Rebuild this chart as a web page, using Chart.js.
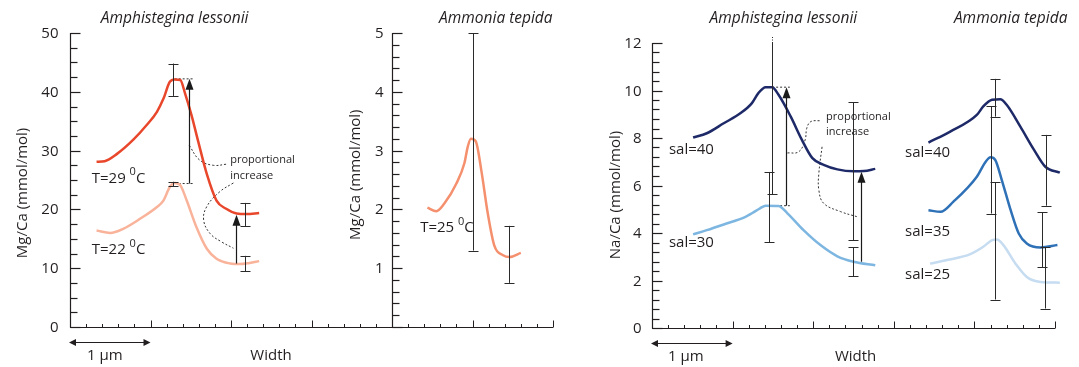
<!DOCTYPE html>
<html>
<head>
<meta charset="utf-8">
<script src="https://cdn.jsdelivr.net/npm/chart.js@4.4.1/dist/chart.umd.min.js"></script>
<style>
    body { margin: 0; background: #fff; }
    #wrap { position: relative; width: 1079px; height: 367px; }
    canvas { position: absolute; top: 0; }
    #left { left: 0; }
    #right { left: 580px; }
</style>
</head>
<body>
<div id="wrap">
    <canvas id="left" width="580" height="367"></canvas>
    <canvas id="right" width="499" height="367"></canvas>
</div>
<script>
// ---- Mg/Ca, Amphistegina lessonii (width in µm)
const alWidth29 = [0.33, 0.43, 0.58, 0.79, 0.95, 1.08, 1.16, 1.24, 1.30, 1.37, 1.43, 1.51, 1.59, 1.70, 1.82, 1.94, 2.07, 2.19, 2.35];
const mgT29     = [28.1, 28.2, 29.4, 31.9, 34.3, 36.6, 38.8, 41.7, 42.1, 42.0, 39.7, 36.0, 31.7, 26.0, 21.5, 20.1, 19.3, 19.2, 19.4];
const alWidth22 = [0.33, 0.50, 0.66, 0.87, 1.08, 1.16, 1.24, 1.30, 1.37, 1.45, 1.57, 1.70, 1.82, 1.99, 2.11, 2.23, 2.35];
const mgT22     = [16.4, 16.0, 16.7, 18.4, 20.4, 21.5, 23.8, 24.5, 24.1, 21.5, 17.0, 13.3, 11.6, 10.8, 10.7, 10.9, 11.2];

const mgErrX    = [1.28, 2.17, 1.28, 2.17];
const mgErrLow  = [39.3, 17.1, 23.9, 9.5];
const mgErrHigh = [44.8, 21.1, 24.7, 12.1];

const mgArrowX    = [1.48, 2.06];
const mgArrowFrom = [24.4, 10.8];
const mgArrowTo   = [42.2, 19.1];

// ---- Mg/Ca, Ammonia tepida
const atWidthT25 = [4.44, 4.55, 4.65, 4.80, 4.90, 4.94, 4.98, 5.04, 5.11, 5.19, 5.27, 5.38, 5.46, 5.60];
const mgT25      = [2.03, 1.97, 2.10, 2.44, 2.79, 3.06, 3.20, 3.16, 2.66, 1.93, 1.39, 1.22, 1.19, 1.26];
const mgT25ErrX    = [5.00, 5.45];
const mgT25ErrLow  = [1.30, 0.75];
const mgT25ErrHigh = [5.00, 1.72];

// ---- Na/Ca, Amphistegina lessonii
const alWidth40 = [0.51, 0.68, 0.89, 1.10, 1.24, 1.32, 1.41, 1.49, 1.57, 1.72, 1.86, 1.99, 2.13, 2.30, 2.50, 2.63, 2.77];
const naSal40   = [8.02, 8.20, 8.62, 9.05, 9.47, 9.89, 10.14, 10.14, 9.82, 8.91, 7.92, 7.15, 6.87, 6.68, 6.60, 6.61, 6.70];
const alWidth30 = [0.51, 0.68, 0.89, 1.16, 1.24, 1.34, 1.41, 1.57, 1.68, 1.88, 2.09, 2.30, 2.50, 2.77];
const naSal30   = [3.94, 4.12, 4.36, 4.68, 4.83, 5.04, 5.15, 5.14, 4.83, 4.12, 3.49, 3.02, 2.79, 2.64];

// ---- Na/Ca, Ammonia tepida
const atWidth40 = [3.43, 3.70, 4.03, 4.11, 4.22, 4.32, 4.40, 4.57, 4.74, 4.88, 5.06];
const naAtSal40 = [7.81, 8.27, 8.97, 9.33, 9.61, 9.63, 9.40, 8.48, 7.50, 6.79, 6.54];
const atWidth35 = [3.43, 3.58, 3.74, 4.03, 4.14, 4.20, 4.26, 4.34, 4.45, 4.55, 4.65, 4.82, 5.03];
const naAtSal35 = [4.96, 4.89, 5.32, 6.37, 7.00, 7.19, 7.07, 6.23, 4.96, 3.98, 3.56, 3.39, 3.49];
const atWidth25 = [3.45, 3.66, 3.95, 4.11, 4.22, 4.28, 4.36, 4.51, 4.65, 4.82, 5.06];
const naAtSal25 = [2.71, 2.86, 3.11, 3.42, 3.70, 3.73, 3.49, 2.71, 2.15, 1.94, 1.91];

const naErrX    = [1.49, 1.455, 2.49, 2.49, 4.25, 4.89, 4.20, 4.84, 4.25, 4.87];
const naErrLow  = [5.64, 3.62, 3.70, 2.18, 8.90, 5.15, 4.82, 2.57, 1.20, 0.82];
const naErrHigh = [12.3, 6.57, 9.50, 3.39, 10.49, 8.13, 9.33, 4.87, 6.13, 3.39];

const naArrowX    = [1.666, 2.593];
const naArrowFrom = [5.15, 2.79];
const naArrowTo   = [10.14, 6.58];

// dotted guides ("proportional increase")
const mgGuideAX = [1.48, 1.61, 1.78, 1.95];
const mgGuideAY = [30.9, 28.4, 27.5, 27.7];
const mgGuideBX = [2.03, 1.86, 1.70, 1.66, 1.74, 1.88, 2.03];
const mgGuideBY = [24.5, 23.0, 20.5, 18.2, 15.9, 14.5, 13.4];
const naGuideAX = [1.68, 1.82, 1.90, 1.92, 1.97, 2.09];
const naGuideAY = [7.37, 7.42, 7.92, 8.41, 8.69, 8.73];
const naGuideBX = [2.11, 2.07, 2.07, 2.13, 2.34, 2.54];
const naGuideBY = [7.63, 6.51, 5.81, 5.25, 4.90, 4.69];

const ink = '#231f20';

function curve(xs, ys, color, yId) {
    return {
        data: xs.map((x, i) => ({x: x, y: ys[i]})),
        borderColor: color,
        borderWidth: 2.5,
        pointRadius: 0,
        cubicInterpolationMode: 'monotone',
        yAxisID: yId || 'y',
        clip: false
    };
}

function dotted(xs, ys, yId) {
    return {
        data: xs.map((x, i) => ({x: x, y: ys[i]})),
        borderColor: '#333',
        borderWidth: 1,
        borderDash: [2, 2],
        pointRadius: 0,
        tension: 0.4,
        yAxisID: yId || 'y',
        clip: false
    };
}

function drawYAxis(ctx, chart, ax) {
    let xs = chart.scales.x;
    let ys = chart.scales[ax.id];
    let px = Math.round(xs.getPixelForValue(ax.at)) + 0.5;

    ctx.strokeStyle = ink;
    ctx.lineWidth = 1.2;
    ctx.beginPath();
    ctx.moveTo(px, ys.getPixelForValue(ys.min) + 0.5);
    ctx.lineTo(px, ys.getPixelForValue(ys.max));
    ctx.stroke();

    ctx.fillStyle = ink;
    ctx.font = '15px "Open Sans"';
    ctx.textAlign = 'right';
    ctx.textBaseline = 'middle';

    let n = Math.round((ys.max - ys.min) / ax.minor);
    for (let i = 0; i <= n; i++) {
        let v = ys.min + i * ax.minor;
        let py = Math.round(ys.getPixelForValue(v)) + 0.5;
        let major = Math.abs(v / ax.major - Math.round(v / ax.major)) < 1e-6;
        ctx.beginPath();
        ctx.moveTo(px, py);
        ctx.lineTo(px + (major ? 10 : 7), py);
        ctx.stroke();
        if (major && !(ax.skipZero && i === 0)) {
            ctx.fillText(String(Math.round(v)), px - ax.gap, py);
        }
    }

    ctx.save();
    ctx.translate(px - ax.titleOffset, ys.getPixelForValue(ax.titleAt));
    ctx.rotate(-Math.PI / 2);
    ctx.textAlign = 'center';
    ctx.fillText(ax.title, 0, 0);
    ctx.restore();
}

function arrowHead(ctx, x, y, dx, dy, len, half) {
    ctx.beginPath();
    ctx.moveTo(x, y);
    ctx.lineTo(x - dx * len - dy * half, y - dy * len + dx * half);
    ctx.lineTo(x - dx * len + dy * half, y - dy * len - dx * half);
    ctx.closePath();
    ctx.fill();
}

function drawXAxis(ctx, chart, xa) {
    let xs = chart.scales.x;
    let ys = chart.scales.y;
    let py = Math.round(ys.getPixelForValue(0)) + 0.5;

    ctx.strokeStyle = ink;
    ctx.lineWidth = 1.2;
    ctx.beginPath();
    ctx.moveTo(xs.getPixelForValue(xs.min), py);
    ctx.lineTo(xs.getPixelForValue(xs.max), py);
    ctx.stroke();

    ctx.lineWidth = 1;
    let n = Math.round((xs.max - xs.min) / 0.2);
    for (let i = 1; i <= n; i++) {
        let px = Math.round(xs.getPixelForValue(xs.min + i * 0.2)) + 0.5;
        ctx.beginPath();
        ctx.moveTo(px, py);
        ctx.lineTo(px, py - (i % 5 === 0 ? 7 : 3.5));
        ctx.stroke();
    }

    // 1 µm scale bar
    let by = py + 15;
    let x0 = xs.getPixelForValue(0) - 1;
    let x1 = xs.getPixelForValue(1);
    ctx.beginPath();
    ctx.moveTo(x0 + 4, by);
    ctx.lineTo(x1 - 4, by);
    ctx.stroke();
    ctx.fillStyle = ink;
    arrowHead(ctx, x1, by, 1, 0, 7, 3.5);
    arrowHead(ctx, x0, by, -1, 0, 7, 3.5);

    ctx.font = '15px "Open Sans"';
    ctx.textAlign = 'left';
    ctx.textBaseline = 'middle';
    ctx.fillText('1 µm', xs.getPixelForValue(xa.barLabelAt), py + 28);
    ctx.fillText('Width', xs.getPixelForValue(xa.widthAt), py + 28);
}

function drawErrorBars(ctx, chart, eb) {
    let xs = chart.scales.x;
    let ys = chart.scales[eb.yId];
    ctx.strokeStyle = '#2b2b2b';
    ctx.lineWidth = 1;
    for (let i = 0; i < eb.x.length; i++) {
        let px = Math.round(xs.getPixelForValue(eb.x[i])) + 0.5;
        let lo = ys.getPixelForValue(eb.low[i]);
        let topVal = Math.min(eb.high[i], ys.max);
        let hi = ys.getPixelForValue(topVal);
        ctx.setLineDash([]);
        ctx.beginPath();
        ctx.moveTo(px, lo);
        ctx.lineTo(px, hi);
        ctx.moveTo(px - 5, Math.round(lo) + 0.5);
        ctx.lineTo(px + 5, Math.round(lo) + 0.5);
        if (eb.high[i] <= ys.max) {
            ctx.moveTo(px - 5, Math.round(hi) + 0.5);
            ctx.lineTo(px + 5, Math.round(hi) + 0.5);
        }
        ctx.stroke();
        if (eb.high[i] > ys.max) {
            ctx.setLineDash([1, 1.5]);
            ctx.beginPath();
            ctx.moveTo(px, hi);
            ctx.lineTo(px, ys.getPixelForValue(eb.high[i]));
            ctx.stroke();
            ctx.setLineDash([]);
        }
    }
}

function drawArrows(ctx, chart, ar) {
    let xs = chart.scales.x;
    let ys = chart.scales[ar.yId];
    ctx.strokeStyle = '#1a1a1a';
    ctx.fillStyle = '#1a1a1a';
    ctx.lineWidth = 1.2;
    for (let i = 0; i < ar.x.length; i++) {
        let px = Math.round(xs.getPixelForValue(ar.x[i])) + 0.5;
        let from = ys.getPixelForValue(ar.from[i]);
        let to = ys.getPixelForValue(ar.to[i]);
        ctx.beginPath();
        ctx.moveTo(px, from);
        ctx.lineTo(px, to + 8);
        ctx.stroke();
        arrowHead(ctx, px, to, 0, -1, 11, 4);
    }
}

function drawLabel(ctx, chart, lb) {
    let xs = chart.scales.x;
    let ys = chart.scales[lb.yId || 'y'];
    let x = xs.getPixelForValue(lb.x);
    let y = ys.getPixelForValue(lb.y);
    let size = lb.size || 15;
    ctx.fillStyle = ink;
    ctx.textAlign = 'left';
    ctx.textBaseline = 'middle';
    ctx.font = size + 'px "Open Sans"';
    let parts = lb.text.split('^');
    ctx.fillText(parts[0], x, y);
    if (parts.length > 1) {
        x += ctx.measureText(parts[0]).width;
        ctx.font = '11px "Open Sans"';
        ctx.fillText(parts[1].charAt(0), x, y - 6);
        x += ctx.measureText(parts[1].charAt(0)).width;
        ctx.font = size + 'px "Open Sans"';
        ctx.fillText(parts[1].slice(1), x, y);
    }
}

const decorPlugin = {
    id: 'decor',
    afterDatasetsDraw(chart, args, opts) {
        let ctx = chart.ctx;
        ctx.save();
        opts.errorBars.forEach(eb => drawErrorBars(ctx, chart, eb));
        opts.arrows.forEach(ar => drawArrows(ctx, chart, ar));
        drawXAxis(ctx, chart, opts.xAxis);
        opts.yAxes.forEach(ax => drawYAxis(ctx, chart, ax));
        opts.labels.forEach(lb => drawLabel(ctx, chart, lb));

        ctx.font = 'italic 15.5px "Open Sans"';
        ctx.textAlign = 'center';
        ctx.textBaseline = 'middle';
        ctx.fillStyle = ink;
        opts.titles.forEach(t => ctx.fillText(t.text, chart.scales.x.getPixelForValue(t.x), 19));
        ctx.restore();
    }
};

Chart.register(decorPlugin);

// Left: Mg/Ca
new Chart(document.getElementById('left').getContext('2d'), {
    type: 'line',
    data: {
        datasets: [
            curve(alWidth29, mgT29, '#e9472b'),
            curve(alWidth22, mgT22, '#f9b39a'),
            curve(atWidthT25, mgT25, '#f5906e', 'y2'),
            dotted(mgGuideAX, mgGuideAY),
            dotted(mgGuideBX, mgGuideBY),
            dotted([1.30, 1.53], [42.2, 42.2]),
            dotted([1.30, 1.53], [24.4, 24.4])
        ]
    },
    options: {
        responsive: false,
        animation: false,
        events: [],
        layout: {padding: {left: 70, right: 27, top: 33, bottom: 40}},
        scales: {
            x: {type: 'linear', min: 0, max: 6, display: false},
            y: {min: 0, max: 50, display: false},
            y2: {min: 0, max: 5, display: false}
        },
        plugins: {
            legend: {display: false},
            tooltip: {enabled: false},
            decor: {
                xAxis: {barLabelAt: 0.21, widthAt: 2.24},
                yAxes: [
                    {id: 'y', at: 0, minor: 2.5, major: 10, gap: 12, skipZero: false, title: 'Mg/Ca (mmol/mol)', titleOffset: 48, titleAt: 22.8},
                    {id: 'y2', at: 4, minor: 0.2, major: 1, gap: 9, skipZero: true, title: 'Mg/Ca (mmol/mol)', titleOffset: 37, titleAt: 2.59}
                ],
                errorBars: [
                    {yId: 'y', x: mgErrX, low: mgErrLow, high: mgErrHigh},
                    {yId: 'y2', x: mgT25ErrX, low: mgT25ErrLow, high: mgT25ErrHigh}
                ],
                arrows: [{yId: 'y', x: mgArrowX, from: mgArrowFrom, to: mgArrowTo}],
                labels: [
                    {text: 'T=29 ^0C', x: 0.27, y: 25.3},
                    {text: 'T=22 ^0C', x: 0.27, y: 13.1},
                    {text: 'proportional', x: 1.99, y: 28.4, size: 11},
                    {text: 'increase', x: 1.99, y: 25.7, size: 11},
                    {text: 'T=25 ^0C', x: 4.35, y: 1.68, yId: 'y2'}
                ],
                titles: [
                    {text: 'Amphistegina lessonii', x: 1.30},
                    {text: 'Ammonia tepida', x: 5.29}
                ]
            }
        }
    }
});

// Right: Na/Ca
new Chart(document.getElementById('right').getContext('2d'), {
    type: 'line',
    data: {
        datasets: [
            curve(alWidth40, naSal40, '#1e2a68'),
            curve(alWidth30, naSal30, '#7db6e0'),
            curve(atWidth40, naAtSal40, '#1e2a68'),
            curve(atWidth35, naAtSal35, '#2f71b7'),
            curve(atWidth25, naAtSal25, '#c6dcf1'),
            dotted(naGuideAX, naGuideAY),
            dotted(naGuideBX, naGuideBY),
            dotted([1.49, 1.71], [10.14, 10.14]),
            dotted([1.49, 1.71], [5.15, 5.15])
        ]
    },
    options: {
        responsive: false,
        animation: false,
        events: [],
        layout: {padding: {left: 72, right: 24, top: 43, bottom: 39}},
        scales: {
            x: {type: 'linear', min: 0, max: 5, display: false},
            y: {min: 0, max: 12, display: false}
        },
        plugins: {
            legend: {display: false},
            tooltip: {enabled: false},
            decor: {
                xAxis: {barLabelAt: 0.20, widthAt: 2.27},
                yAxes: [
                    {id: 'y', at: 0, minor: 0.4, major: 2, gap: 11, skipZero: false, title: 'Na/Ca (mmol/mol)', titleOffset: 37, titleAt: 5.6}
                ],
                errorBars: [{yId: 'y', x: naErrX, low: naErrLow, high: naErrHigh}],
                arrows: [{yId: 'y', x: naArrowX, from: naArrowFrom, to: naArrowTo}],
                labels: [
                    {text: 'sal=40', x: 0.21, y: 7.5},
                    {text: 'sal=30', x: 0.21, y: 3.58},
                    {text: 'proportional', x: 2.16, y: 8.88, size: 11},
                    {text: 'increase', x: 2.16, y: 8.25, size: 11},
                    {text: 'sal=40', x: 3.14, y: 7.37},
                    {text: 'sal=35', x: 3.14, y: 4.04},
                    {text: 'sal=25', x: 3.14, y: 2.23}
                ],
                titles: [
                    {text: 'Amphistegina lessonii', x: 1.63},
                    {text: 'Ammonia tepida', x: 4.45}
                ]
            }
        }
    }
});
</script>
</body>
</html>
